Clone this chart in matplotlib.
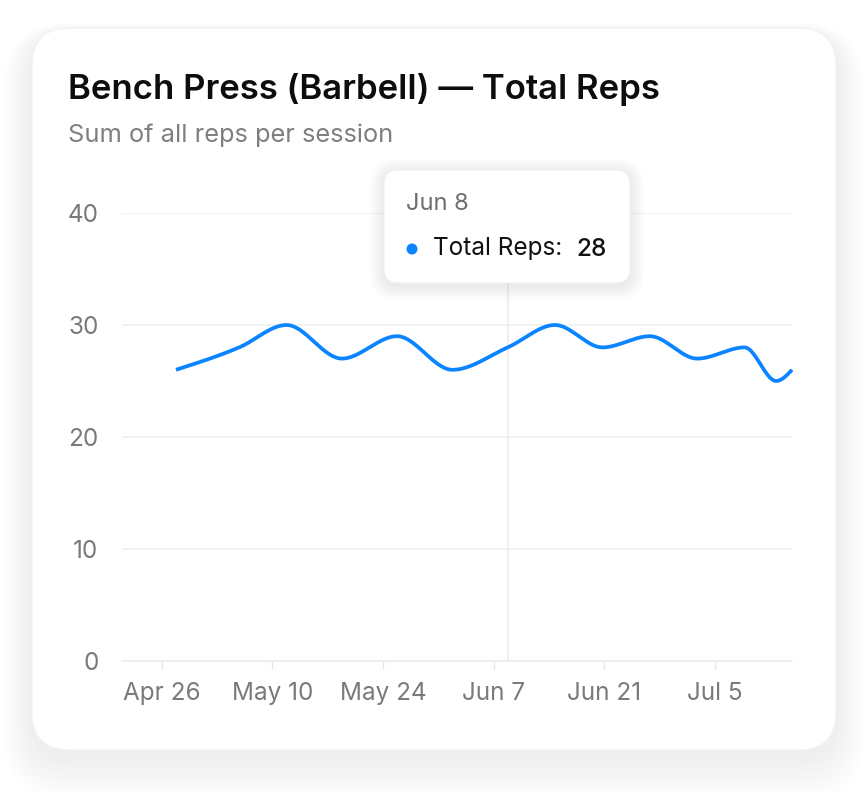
import numpy as np
import matplotlib
matplotlib.use("Agg")
import matplotlib.pyplot as plt
import matplotlib.dates as mdates
from matplotlib.patches import FancyBboxPatch, Circle
import datetime as dt

# ---------------- data ----------------
session_dates = ["2025-04-27 19:00", "2025-05-05 19:00", "2025-05-11 19:00", "2025-05-18 19:00",
                 "2025-05-25 19:00", "2025-06-01 19:00", "2025-06-08 19:00", "2025-06-14 19:00",
                 "2025-06-20 19:00", "2025-06-26 19:00", "2025-07-02 19:00", "2025-07-08 19:00",
                 "2025-07-12 19:00", "2025-07-14 19:00"]
total_reps = [26, 28, 30, 27, 29, 26, 28, 30, 28, 29, 27, 28, 25, 26]
x_tick_dates = ["2025-04-26", "2025-05-10", "2025-05-24", "2025-06-07", "2025-06-21", "2025-07-05"]
x_tick_labels = ["Apr 26", "May 10", "May 24", "Jun 7", "Jun 21", "Jul 5"]
y_ticks = [0, 10, 20, 30, 40]
title = "Bench Press (Barbell) — Total Reps"
subtitle = "Sum of all reps per session"
tooltip_date = "Jun 8"
tooltip_label = "Total Reps:"
tooltip_index = 6

FONT = ["Inter", "DejaVu Sans"]
plt.rcParams['font.family'] = FONT

W, H = 868, 792
fig = plt.figure(figsize=(W / 100, H / 100), dpi=100)
fig.patch.set_facecolor("#ffffff")

def fx(px):
    return px / W

def fy(py):
    return 1 - py / H

def overlay(z):
    a = fig.add_axes([0, 0, 1, 1])
    a.set_xlim(0, W)
    a.set_ylim(H, 0)
    a.axis("off")
    a.set_zorder(z)
    a.patch.set_alpha(0)
    return a

# ---------------- card with shadow ----------------
bg = overlay(0)

cx0, cy0, cx1, cy1, rad = 32, 28, 836, 750, 38
for i in range(16):
    grow = 2 + i * 1.8
    bg.add_patch(FancyBboxPatch((cx0 - grow, cy0 - grow + 8 + i * 1.0),
                                (cx1 - cx0) + 2 * grow, (cy1 - cy0) + 2 * grow,
                                boxstyle=f"round,pad=0,rounding_size={rad + grow}",
                                fc="#000000", ec="none", alpha=0.0038, zorder=1))
bg.add_patch(FancyBboxPatch((cx0, cy0), cx1 - cx0, cy1 - cy0,
                            boxstyle=f"round,pad=0,rounding_size={rad}",
                            fc="#ffffff", ec="#f2f2f2", lw=0.8, zorder=2))

bg.text(68, 89, title, fontsize=25, fontweight="semibold", color="#0d0d0d",
        va="center", ha="left", zorder=3)
bg.text(68, 135, subtitle, fontsize=18.3, color="#7f7f7f", va="center", ha="left", zorder=3)

# ---------------- chart ----------------
x_left, x_right, y_top, y_bot = 122, 792, 213, 661
ax = fig.add_axes([fx(x_left), fy(y_bot), fx(x_right - x_left), (y_bot - y_top) / H])
ax.set_zorder(1)
ax.patch.set_alpha(0)

xd = np.array([mdates.date2num(dt.datetime.strptime(s, "%Y-%m-%d %H:%M")) for s in session_dates])
yv = np.array(total_reps, dtype=float)

# monotone cubic (d3 curveMonotoneX) drawing of the line
def monotone_path(x, y, n=40):
    h = np.diff(x)
    s = np.diff(y) / h
    m = np.zeros_like(y)
    for i in range(1, len(x) - 1):
        s0, s1 = s[i - 1], s[i]
        p = (s0 * h[i] + s1 * h[i - 1]) / (h[i - 1] + h[i])
        m[i] = (np.sign(s0) + np.sign(s1)) * min(abs(s0), abs(s1), 0.5 * abs(p))
    m[0] = (3 * s[0] - m[1]) / 2
    m[-1] = (3 * s[-1] - m[-2]) / 2
    xs, ys = [], []
    for i in range(len(x) - 1):
        t = np.linspace(0, 1, n, endpoint=(i == len(x) - 2))
        h00 = 2 * t**3 - 3 * t**2 + 1
        h10 = t**3 - 2 * t**2 + t
        h01 = -2 * t**3 + 3 * t**2
        h11 = t**3 - t**2
        xs.append(x[i] + t * h[i])
        ys.append(h00 * y[i] + h10 * h[i] * m[i] + h01 * y[i + 1] + h11 * h[i] * m[i + 1])
    return np.concatenate(xs), np.concatenate(ys)

px, py = monotone_path(xd, yv)

span = xd[-1] - xd[0]
pad_left = span * (176.0 - x_left) / (x_right - 176.0)
ax.set_xlim(xd[0] - pad_left, xd[-1])
ax.set_ylim(0, 40)

for yt in y_ticks:
    ax.axhline(yt, color="#f0f0f0", lw=1.2, zorder=1)

ax.axvline(xd[tooltip_index], color="#ececec", lw=1.2, zorder=1)

ax.plot(px, py, color="#0a84ff", lw=2.7, solid_capstyle="butt", zorder=3, clip_on=False)

ticks = [mdates.date2num(dt.datetime.strptime(s, "%Y-%m-%d")) for s in x_tick_dates]
ax.set_xticks(ticks)
ax.set_xticklabels(x_tick_labels)
ax.set_yticks(y_ticks)
ax.set_yticklabels([str(v) for v in y_ticks])
ax.tick_params(axis="x", length=6, width=1, color="#e6e6e6", labelsize=17.5, labelcolor="#7a7a7a", pad=9)
ax.tick_params(axis="y", length=0, labelsize=17.5, labelcolor="#7a7a7a", pad=17)
for sp in ["top", "right", "left"]:
    ax.spines[sp].set_visible(False)
ax.spines["bottom"].set_color("#ececec")
ax.spines["bottom"].set_linewidth(1.2)

# ---------------- tooltip ----------------
tt = overlay(2)
tx0, ty0, tx1, ty1, trad = 384, 170, 630, 283, 14
for i in range(10):
    grow = 1 + i * 1.5
    tt.add_patch(FancyBboxPatch((tx0 - grow, ty0 - grow + 3), (tx1 - tx0) + 2 * grow, (ty1 - ty0) + 2 * grow,
                                boxstyle=f"round,pad=0,rounding_size={trad + grow}",
                                fc="#000000", ec="none", alpha=0.006, zorder=10))
tt.add_patch(FancyBboxPatch((tx0, ty0), tx1 - tx0, ty1 - ty0,
                            boxstyle=f"round,pad=0,rounding_size={trad}",
                            fc="#ffffff", ec="#f0f0f0", lw=0.8, zorder=11))
tt.text(406, 204, tooltip_date, fontsize=17, color="#6e6e6e", va="center", ha="left", zorder=12)
tt.add_patch(Circle((412, 249), 5.5, fc="#0a84ff", ec="none", zorder=12))
tt.text(433, 249, tooltip_label, fontsize=17.5, color="#111111", va="center", ha="left", zorder=12)
tt.text(607, 249, str(total_reps[tooltip_index]), fontsize=17.5, fontweight="medium",
        color="#111111", va="center", ha="right", zorder=12)

fig.savefig("out.png", dpi=100, facecolor=fig.get_facecolor())
